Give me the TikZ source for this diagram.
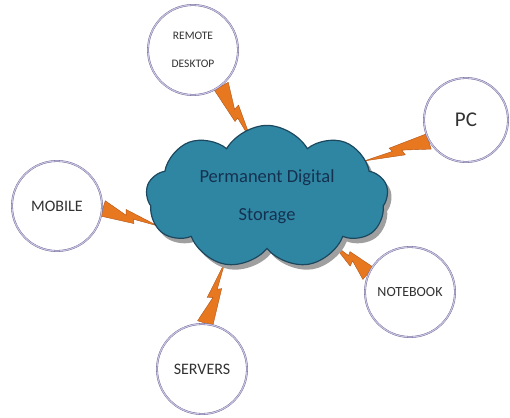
\documentclass[tikz,border=0pt]{standalone}
\usepackage{fontspec}
\setmainfont{Carlito}
\usetikzlibrary{shapes.symbols,calc,shadows,backgrounds}
\definecolor{cloudfill}{RGB}{47,134,163}
\definecolor{cloudline}{RGB}{28,72,95}
\definecolor{ringcol}{RGB}{92,86,135}
\definecolor{ringglow}{RGB}{200,195,225}
\definecolor{boltfill}{RGB}{232,120,32}
\definecolor{boltline}{RGB}{176,84,24}
\definecolor{txtgray}{RGB}{50,50,50}
\definecolor{cloudtxt}{RGB}{20,50,80}
\tikzset{
  dev/.style={circle, draw=ringcol, line width=1.8pt, fill=white, minimum size=90pt, inner sep=0pt, text=txtgray, align=center,
    postaction={draw=ringglow, line width=1.2pt, shorten >=0pt}},
  boltstyle/.style={fill=boltfill, draw=boltline, line width=0.4pt, line join=miter},
}
\newcommand{\zbolt}[2]{%
  \filldraw[boltstyle]
    ($(#1)!8pt!90:(#2)$) --
    ($(#1)!0.42!(#2)!0.5pt!90:(#2)$) --
    ($(#1)!0.39!(#2)!6pt!90:(#2)$) --
    (#2) --
    ($(#1)!0.56!(#2)!1pt!-90:(#2)$) --
    ($(#1)!0.59!(#2)!5pt!-90:(#2)$) --
    ($(#1)!8pt!-90:(#2)$) -- cycle;}
\begin{document}
\begin{tikzpicture}[x=1pt,y=-1pt]
\useasboundingbox (0,0) rectangle (510,417);
\node[dev, font=\fontsize{11.5}{28}\selectfont] (rd) at (193,50) {REMOTE\\DESKTOP};
\node[dev, minimum size=84pt, font=\fontsize{21}{24}\selectfont] (pc) at (466,120) {PC};
\node[dev, font=\fontsize{16}{18}\selectfont] (mob) at (57,206) {MOBILE};
\node[dev, font=\fontsize{14}{16}\selectfont] (nb) at (410,292) {NOTEBOOK};
\node[dev, font=\fontsize{16}{18}\selectfont] (srv) at (202,369) {SERVERS};
\node[cloud, cloud puffs=9, cloud puff arc=120, aspect=1.7,
      minimum width=242pt, minimum height=143pt, inner sep=0pt,
      fill=cloudfill, draw=cloudline, line width=1.2pt,
      drop shadow={shadow xshift=4pt, shadow yshift=-5pt, fill=gray!75, opacity=1},
      align=center, font=\fontsize{18.5}{38}\selectfont, text=cloudtxt] (cloud) at (267,197) {Permanent Digital\\Storage};
\coordinate (t1) at (252,142);
\coordinate (t2) at (364,161);
\coordinate (t3) at (158,226);
\coordinate (t4) at (332,243);
\coordinate (t5) at (225,262);
\begin{pgfonlayer}{background}
\fill[white] (0,0) rectangle (510,417);
\zbolt{rd.308}{t1}
\zbolt{pc.210}{t2}
\zbolt{mob.357}{t3}
\zbolt{nb.156}{t4}
\zbolt{srv.86}{t5}
\end{pgfonlayer}
\end{tikzpicture}
\end{document}
